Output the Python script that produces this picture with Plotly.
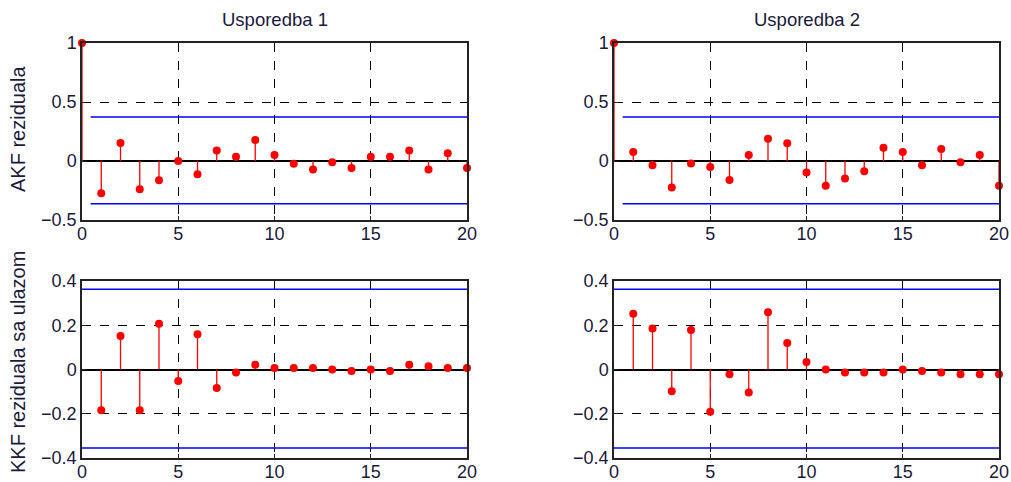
import plotly.graph_objects as go

lags_akf = list(range(0, 21))
lags_kkf = list(range(1, 21))

akf_1 = [1.0, -0.273, 0.152, -0.239, -0.163, 0.0, -0.113, 0.09, 0.037, 0.177, 0.051,
         -0.023, -0.073, -0.011, -0.059, 0.037, 0.037, 0.09, -0.073, 0.065, -0.059]
akf_2 = [1.0, 0.076, -0.036, -0.224, -0.022, -0.05, -0.162, 0.05, 0.188, 0.151, -0.098,
         -0.21, -0.148, -0.087, 0.112, 0.076, -0.036, 0.101, -0.011, 0.05, -0.21]
kkf_1 = [-0.184, 0.151, -0.184, 0.207, -0.052, 0.159, -0.084, -0.013, 0.021, 0.007,
         0.007, 0.007, 0.0, -0.007, 0.0, -0.007, 0.021, 0.015, 0.007, 0.007]
kkf_2 = [0.252, 0.185, -0.098, 0.179, -0.191, -0.021, -0.104, 0.259, 0.12, 0.034,
         0.0, -0.013, -0.013, -0.013, 0.0, -0.007, -0.013, -0.021, -0.021, -0.021]

akf_bound_hi, akf_bound_lo = 0.373, -0.362
kkf_bound_hi, kkf_bound_lo = 0.363, -0.355

titles = ["Usporedba 1", "Usporedba 2"]
ylabels = ["AKF reziduala", "KKF reziduala sa ulazom"]

W, H = 1011, 482
fig = go.Figure()

xdom_l = [82 / W, 467 / W]
xdom_r = [614 / W, 999 / W]
ydom_t = [1 - 220 / H, 1 - 43 / H]
ydom_b = [1 - 458 / H, 1 - 281 / H]

panels = [
    (1, lags_akf, akf_1, akf_bound_hi, akf_bound_lo, 0.45, xdom_l, ydom_t, [-0.5, 1], [-0.5, 0, 0.5, 1]),
    (2, lags_akf, akf_2, akf_bound_hi, akf_bound_lo, 0.45, xdom_r, ydom_t, [-0.5, 1], [-0.5, 0, 0.5, 1]),
    (3, lags_kkf, kkf_1, kkf_bound_hi, kkf_bound_lo, 0.0, xdom_l, ydom_b, [-0.4, 0.4], [-0.4, -0.2, 0, 0.2, 0.4]),
    (4, lags_kkf, kkf_2, kkf_bound_hi, kkf_bound_lo, 0.0, xdom_r, ydom_b, [-0.4, 0.4], [-0.4, -0.2, 0, 0.2, 0.4]),
]

family = "Liberation Sans, Arial, sans-serif"
tickfont = dict(family=family, size=18, color="#1a1a3a")
titlefont = dict(family=family, size=18.5, color="#1a1a3a")
labelfont = dict(family=family, size=20, color="#1a1a3a")

for i, lags, vals, hi, lo, bstart, xd, yd, yr, yt in panels:
    xa = "x" if i == 1 else f"x{i}"
    ya = "y" if i == 1 else f"y{i}"
    sx, sy = [], []
    for l, v in zip(lags, vals):
        sx += [l, l, None]
        sy += [0, v, None]
    fig.add_trace(go.Scatter(x=[bstart, 20], y=[hi, hi], mode="lines",
                             line=dict(color="#0000ff", width=1.5), xaxis=xa, yaxis=ya, showlegend=False))
    fig.add_trace(go.Scatter(x=[bstart, 20], y=[lo, lo], mode="lines",
                             line=dict(color="#0000ff", width=1.5), xaxis=xa, yaxis=ya, showlegend=False))
    fig.add_trace(go.Scatter(x=sx, y=sy, mode="lines", line=dict(color="#ff0000", width=1.3),
                             xaxis=xa, yaxis=ya, showlegend=False, cliponaxis=False))
    fig.add_trace(go.Scatter(x=lags, y=vals, mode="markers",
                             marker=dict(color="#ff0000", size=8, line=dict(width=0)),
                             xaxis=xa, yaxis=ya, showlegend=False, cliponaxis=False))
    axkw = dict(showline=True, linecolor="#222222", linewidth=1.5, mirror=True,
                showgrid=True, gridcolor="black", griddash="dash", gridwidth=1,
                ticks="inside", ticklen=4, tickcolor="#222222", tickfont=tickfont,
                automargin=False)
    fig.layout[("xaxis" if i == 1 else f"xaxis{i}")] = dict(
        domain=xd, range=[0, 20], tickvals=[0, 5, 10, 15, 20], anchor=ya,
        zeroline=False, ticklabelstandoff=-3, **axkw)
    fig.layout[("yaxis" if i == 1 else f"yaxis{i}")] = dict(
        domain=yd, range=yr, tickvals=yt, anchor=xa,
        zeroline=True, zerolinecolor="black", zerolinewidth=1.5, **axkw)

annotations = [
    dict(text=titles[0], x=(xdom_l[0] + xdom_l[1]) / 2, y=1 - 20 / H, xref="paper", yref="paper",
         xanchor="center", yanchor="middle", showarrow=False, font=titlefont),
    dict(text=titles[1], x=(xdom_r[0] + xdom_r[1]) / 2, y=1 - 20 / H, xref="paper", yref="paper",
         xanchor="center", yanchor="middle", showarrow=False, font=titlefont),
    dict(text=ylabels[0], x=18 / W, y=1 - 129 / H, xref="paper", yref="paper", textangle=-90,
         xanchor="center", yanchor="middle", showarrow=False, font=labelfont),
    dict(text=ylabels[1], x=18 / W, y=1 - 362 / H, xref="paper", yref="paper", textangle=-90,
         xanchor="center", yanchor="middle", showarrow=False, font=labelfont),
]

fig.update_layout(width=W, height=H, margin=dict(l=0, r=0, t=0, b=0, autoexpand=False),
                  paper_bgcolor="white", plot_bgcolor="white",
                  annotations=annotations, showlegend=False)

fig.write_html("out.html")
